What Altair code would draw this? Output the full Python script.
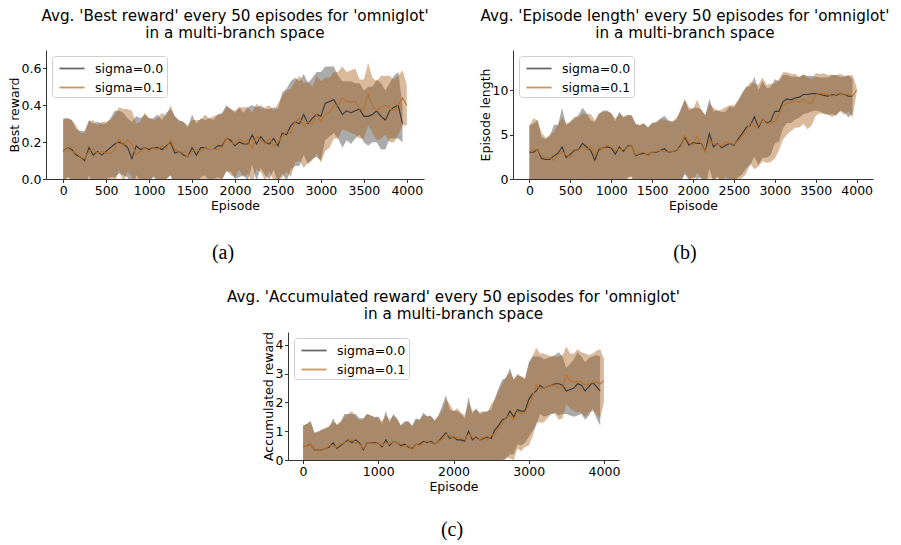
import altair as alt
import pandas as pd

# ---------------- data (every 50 episodes) ----------------
EP_G = list(range(0, 4000, 50))   # sigma=0.0 : 0..3950
EP_O = list(range(0, 4050, 50))   # sigma=0.1 : 0..4000
X_TICKS_AB = [0, 500, 1000, 1500, 2000, 2500, 3000, 3500, 4000]
X_TICKS_C = [0, 1000, 2000, 3000, 4000]
SERIES = ["sigma=0.0", "sigma=0.1"]

# (a) Best reward
A_G_MEAN = [0.15, 0.17, 0.16, 0.13, 0.12, 0.10, 0.17, 0.13, 0.15, 0.13,
            0.15, 0.17, 0.19, 0.20, 0.19, 0.17, 0.11, 0.18, 0.16, 0.17,
            0.16, 0.17, 0.17, 0.16, 0.18, 0.20, 0.14, 0.15, 0.13, 0.12,
            0.17, 0.13, 0.17, 0.17, 0.16, 0.16, 0.18, 0.18, 0.22, 0.21,
            0.18, 0.20, 0.19, 0.19, 0.24, 0.19, 0.23, 0.20, 0.19, 0.22,
            0.18, 0.25, 0.24, 0.29, 0.31, 0.30, 0.35, 0.30, 0.33, 0.35,
            0.34, 0.41, 0.42, 0.43, 0.39, 0.35, 0.37, 0.36, 0.37, 0.38,
            0.34, 0.34, 0.35, 0.37, 0.34, 0.32, 0.37, 0.39, 0.40, 0.30]
A_G_STD = [0.18, 0.16, 0.16, 0.14, 0.14, 0.16, 0.15, 0.17, 0.16, 0.17,
           0.15, 0.16, 0.18, 0.17, 0.17, 0.16, 0.20, 0.16, 0.17, 0.18,
           0.17, 0.16, 0.18, 0.16, 0.18, 0.18, 0.20, 0.17, 0.18, 0.16,
           0.18, 0.17, 0.16, 0.15, 0.17, 0.16, 0.17, 0.18, 0.18, 0.17,
           0.18, 0.19, 0.17, 0.20, 0.16, 0.20, 0.17, 0.18, 0.19, 0.17,
           0.20, 0.22, 0.25, 0.24, 0.24, 0.23, 0.22, 0.22, 0.22, 0.23,
           0.24, 0.20, 0.19, 0.18, 0.17, 0.18, 0.16, 0.17, 0.15, 0.14,
           0.14, 0.16, 0.15, 0.17, 0.18, 0.16, 0.15, 0.17, 0.18, 0.10]
A_O_MEAN = [0.15, 0.17, 0.15, 0.14, 0.12, 0.11, 0.15, 0.16, 0.14, 0.15,
            0.14, 0.14, 0.16, 0.22, 0.18, 0.21, 0.19, 0.13, 0.15, 0.17,
            0.15, 0.17, 0.16, 0.18, 0.17, 0.21, 0.16, 0.15, 0.14, 0.12,
            0.15, 0.16, 0.15, 0.17, 0.16, 0.16, 0.16, 0.17, 0.22, 0.20,
            0.19, 0.22, 0.20, 0.21, 0.17, 0.23, 0.21, 0.19, 0.22, 0.18,
            0.20, 0.23, 0.26, 0.25, 0.31, 0.33, 0.29, 0.31, 0.30, 0.35,
            0.31, 0.35, 0.36, 0.40, 0.40, 0.44, 0.42, 0.42, 0.42, 0.38,
            0.38, 0.46, 0.40, 0.37, 0.39, 0.40, 0.38, 0.37, 0.40, 0.44,
            0.40]
A_O_STD = [0.17, 0.16, 0.17, 0.15, 0.13, 0.14, 0.16, 0.16, 0.15, 0.16,
           0.17, 0.18, 0.19, 0.17, 0.20, 0.17, 0.18, 0.17, 0.16, 0.19,
           0.18, 0.15, 0.17, 0.18, 0.17, 0.19, 0.18, 0.16, 0.17, 0.17,
           0.17, 0.16, 0.17, 0.18, 0.17, 0.18, 0.19, 0.18, 0.17, 0.18,
           0.18, 0.17, 0.19, 0.18, 0.19, 0.18, 0.17, 0.20, 0.18, 0.19,
           0.21, 0.22, 0.22, 0.24, 0.22, 0.23, 0.23, 0.22, 0.20, 0.21,
           0.22, 0.20, 0.19, 0.18, 0.18, 0.17, 0.16, 0.17, 0.18, 0.16,
           0.16, 0.17, 0.15, 0.16, 0.17, 0.16, 0.18, 0.17, 0.16, 0.15,
           0.11]

# (b) Episode length
B_G_MEAN = [3.0, 3.0, 3.3, 2.3, 2.2, 2.2, 2.6, 2.9, 3.6, 2.4,
            2.8, 3.2, 3.3, 4.0, 3.6, 3.2, 2.1, 3.3, 3.5, 3.6,
            3.5, 2.8, 3.6, 3.1, 3.7, 3.7, 2.6, 2.8, 2.9, 2.7,
            3.0, 3.0, 3.2, 3.4, 3.0, 3.1, 3.2, 3.8, 4.7, 3.8,
            4.1, 4.0, 4.0, 3.1, 5.1, 3.6, 4.0, 3.5, 3.8, 4.0,
            3.8, 4.5, 5.1, 5.8, 6.0, 7.0, 5.8, 6.7, 6.3, 6.5,
            7.6, 7.6, 8.7, 9.0, 8.9, 9.1, 9.2, 9.5, 9.5, 9.6,
            9.6, 9.5, 9.4, 9.3, 9.5, 9.4, 9.6, 9.5, 9.3, 9.3]
B_G_STD = [3.0, 3.2, 3.3, 2.4, 2.3, 2.6, 3.5, 3.2, 4.4, 3.6,
           3.7, 3.6, 3.9, 4.0, 3.8, 3.4, 4.3, 4.0, 4.2, 4.1,
           3.9, 3.7, 4.0, 3.8, 3.5, 3.4, 3.6, 3.2, 3.3, 3.1,
           3.3, 3.4, 3.6, 3.7, 3.6, 3.3, 3.5, 4.1, 4.2, 3.9,
           3.9, 4.0, 3.8, 4.1, 3.9, 4.0, 3.7, 4.0, 3.8, 4.2,
           4.2, 4.3, 4.6, 4.6, 4.4, 4.5, 4.2, 4.3, 3.9, 3.8,
           3.6, 3.4, 3.0, 2.7, 2.6, 2.4, 2.3, 2.2, 2.1, 2.0,
           1.9, 1.9, 2.0, 2.1, 2.2, 2.3, 1.9, 2.0, 2.4, 1.9]
B_O_MEAN = [3.0, 3.4, 3.2, 2.6, 2.3, 2.4, 2.1, 2.7, 3.1, 2.7,
            2.5, 3.1, 3.3, 3.6, 3.3, 3.7, 2.6, 3.5, 3.4, 3.8,
            3.6, 3.2, 3.4, 3.3, 3.6, 3.7, 2.7, 2.9, 3.0, 2.6,
            3.0, 3.1, 3.2, 3.1, 3.0, 3.1, 3.3, 3.6, 4.9, 4.1,
            3.8, 4.8, 3.9, 3.1, 4.3, 4.0, 3.9, 3.7, 4.2, 4.0,
            3.9, 4.3, 4.8, 5.4, 6.3, 5.9, 6.0, 6.7, 6.2, 6.3,
            6.5, 7.2, 8.2, 8.5, 8.6, 8.8, 8.6, 9.0, 8.5, 8.6,
            9.5, 9.6, 9.6, 9.5, 9.3, 9.5, 9.7, 9.4, 9.6, 9.3,
            10.0]
B_O_STD = [3.0, 3.4, 3.4, 2.6, 2.3, 2.6, 3.2, 3.4, 3.8, 3.6,
           3.8, 3.9, 3.6, 3.8, 4.0, 3.6, 4.0, 3.9, 4.1, 3.8,
           3.8, 3.6, 3.9, 3.7, 3.6, 3.5, 3.4, 3.2, 3.3, 3.2,
           3.3, 3.2, 3.5, 3.6, 3.5, 3.4, 3.6, 4.0, 4.1, 4.0,
           4.0, 4.1, 3.9, 4.0, 4.2, 4.0, 3.8, 4.1, 3.9, 4.3,
           4.4, 4.5, 4.7, 4.8, 4.6, 4.8, 4.6, 4.7, 4.4, 4.4,
           4.2, 4.0, 3.8, 3.5, 3.2, 3.0, 2.8, 2.8, 2.9, 2.6,
           2.4, 2.2, 2.3, 2.2, 2.4, 2.2, 2.1, 2.2, 2.0, 2.4,
           0.3]

# (c) Accumulated reward
C_G_MEAN = [0.50, 0.50, 0.55, 0.35, 0.35, 0.35, 0.40, 0.45, 0.60, 0.40,
            0.50, 0.60, 0.70, 0.60, 0.70, 0.60, 0.35, 0.60, 0.60, 0.60,
            0.60, 0.45, 0.70, 0.50, 0.65, 0.60, 0.50, 0.55, 0.45, 0.40,
            0.55, 0.55, 0.65, 0.60, 0.65, 0.55, 0.65, 0.80, 0.95, 0.75,
            0.80, 0.70, 0.70, 0.65, 1.00, 0.70, 0.80, 0.70, 0.75, 0.80,
            0.75, 1.05, 1.20, 1.40, 1.45, 1.70, 1.50, 1.75, 1.70, 1.70,
            2.10, 2.30, 2.40, 2.60, 2.50, 2.55, 2.60, 2.65, 2.65, 2.60,
            2.40, 2.45, 2.50, 2.65, 2.60, 2.40, 2.55, 2.70, 2.55, 2.40]
C_G_STD = [0.70, 0.75, 0.80, 0.60, 0.65, 0.70, 0.70, 0.70, 0.85, 0.80,
           0.80, 1.00, 0.90, 1.00, 0.90, 0.85, 1.10, 1.00, 0.95, 0.90,
           0.90, 0.80, 1.00, 0.80, 0.95, 0.85, 0.70, 0.80, 0.90, 0.80,
           0.90, 0.85, 1.00, 0.90, 0.90, 0.80, 0.90, 1.10, 1.30, 1.00,
           0.90, 1.00, 0.90, 0.80, 1.20, 0.90, 1.00, 0.90, 0.90, 0.90,
           1.00, 1.10, 1.30, 1.40, 1.40, 1.50, 1.30, 1.20, 1.20, 1.10,
           1.30, 1.30, 1.20, 1.00, 1.00, 1.00, 1.00, 1.00, 1.10, 1.00,
           0.80, 0.90, 1.00, 1.10, 1.00, 1.00, 1.00, 0.90, 1.10, 1.20]
C_O_MEAN = [0.50, 0.50, 0.55, 0.35, 0.35, 0.35, 0.40, 0.50, 0.50, 0.45,
            0.55, 0.60, 0.65, 0.70, 0.60, 0.55, 0.40, 0.60, 0.60, 0.55,
            0.60, 0.50, 0.60, 0.55, 0.65, 0.60, 0.45, 0.50, 0.50, 0.35,
            0.55, 0.50, 0.60, 0.65, 0.60, 0.55, 0.65, 0.70, 0.90, 0.85,
            0.75, 0.80, 0.75, 0.70, 0.90, 0.80, 0.75, 0.70, 0.80, 0.70,
            0.85, 0.90, 1.10, 1.25, 1.50, 1.55, 1.40, 1.70, 1.60, 1.65,
            1.90, 2.20, 2.60, 2.50, 2.50, 2.55, 2.60, 2.60, 2.50, 2.55,
            2.95, 2.75, 2.70, 2.75, 2.70, 2.60, 2.65, 2.70, 2.70, 2.65,
            2.75]
C_O_STD = [0.70, 0.75, 0.80, 0.60, 0.60, 0.70, 0.70, 0.70, 0.80, 0.80,
           0.80, 0.90, 0.95, 1.00, 0.90, 0.85, 1.00, 1.00, 0.95, 0.90,
           0.90, 0.85, 0.95, 0.85, 0.90, 0.80, 0.75, 0.80, 0.85, 0.80,
           0.85, 0.90, 0.95, 0.90, 0.90, 0.85, 0.90, 1.00, 1.20, 1.10,
           0.95, 1.00, 0.90, 0.85, 1.10, 0.90, 1.00, 0.95, 0.90, 0.95,
           1.10, 1.20, 1.30, 1.40, 1.40, 1.50, 1.40, 1.30, 1.30, 1.20,
           1.40, 1.40, 1.30, 1.20, 1.20, 1.10, 1.00, 1.00, 1.10, 1.10,
           1.00, 0.95, 1.00, 1.10, 1.05, 1.10, 1.00, 1.00, 1.10, 1.20,
           0.75]

# ---------------- style ----------------
FONT = "DejaVu Sans"
GRAY_BAND, GRAY_BAND_OP = "#7f7f7f", 0.66
ORANGE_BAND, ORANGE_BAND_OP = "#a45a14", 0.42
GRAY_LINE, ORANGE_LINE = "#383838", "#b8722c"


def frame(ep, mean, std, label):
    n = min(len(ep), len(mean), len(std))
    return pd.DataFrame({
        "Episode": ep[:n],
        "mean": mean[:n],
        "lo": [m - s for m, s in zip(mean[:n], std[:n])],
        "hi": [m + s for m, s in zip(mean[:n], std[:n])],
        "series": label,
    })


def panel(g, o, ytitle, ydomain, yticks, yfmt, xticks, w, h, title, tag, tagx, tagdy, tdx=0):
    data = pd.concat([g, o], ignore_index=True)
    base = alt.Chart(data)
    xs = alt.Scale(domain=[-200, 4200], nice=False, zero=False)
    ys = alt.Scale(domain=ydomain, nice=False, zero=False)
    xaxis = alt.Axis(values=xticks, format="d", title="Episode")
    yaxis = alt.Axis(values=yticks, format=yfmt, title=ytitle)
    x = alt.X("Episode:Q", scale=xs, axis=xaxis)

    band_g = base.transform_filter(alt.datum.series == SERIES[0]).mark_area(
        color=GRAY_BAND, opacity=GRAY_BAND_OP, clip=True
    ).encode(x=x, y=alt.Y("lo:Q", scale=ys, axis=yaxis), y2="hi:Q")
    band_o = base.transform_filter(alt.datum.series == SERIES[1]).mark_area(
        color=ORANGE_BAND, opacity=ORANGE_BAND_OP, clip=True
    ).encode(x=x, y=alt.Y("lo:Q", scale=ys, axis=yaxis), y2="hi:Q")
    lines = base.mark_line(strokeWidth=1.1, clip=True).encode(
        x=x,
        y=alt.Y("mean:Q", scale=ys, axis=yaxis),
        color=alt.Color(
            "series:N",
            scale=alt.Scale(domain=SERIES, range=[GRAY_LINE, ORANGE_LINE]),
            legend=alt.Legend(
                title=None, orient="top-left", offset=6, padding=3,
                strokeColor="#d0d0d0", fillColor="white", cornerRadius=3,
                labelFont=FONT, labelFontSize=12.5, labelColor="black",
                symbolType="M-0.6,0H2.4", symbolSize=280, symbolStrokeWidth=1.8,
                symbolOpacity=0.75, rowPadding=3, labelOffset=21,
            ),
        ),
    )
    tagc = alt.Chart(pd.DataFrame({"t": [tag]})).mark_text(
        font="Liberation Serif", fontSize=20, color="black", clip=False
    ).encode(text="t:N", x=alt.value(tagx), y=alt.value(h + tagdy))

    return alt.layer(band_g, band_o, lines, tagc).properties(
        width=w, height=h,
        title=alt.TitleParams(title, font=FONT, fontSize=15.2, fontWeight="normal",
                              color="black", anchor="middle", offset=9, lineHeight=17,
                              dx=tdx),
    )


pa = panel(frame(EP_G, A_G_MEAN, A_G_STD, SERIES[0]), frame(EP_O, A_O_MEAN, A_O_STD, SERIES[1]),
           "Best reward", [0, 0.7], [0.0, 0.2, 0.4, 0.6], ".1f", X_TICKS_AB, 378, 129,
           ["Avg. 'Best reward' every 50 episodes for 'omniglot'", "in a multi-branch space"],
           "(a)", 177, 74)
pb = panel(frame(EP_G, B_G_MEAN, B_G_STD, SERIES[0]), frame(EP_O, B_O_MEAN, B_O_STD, SERIES[1]),
           "Episode length", [0, 14.5], [0, 5, 10], "d", X_TICKS_AB, 360, 129,
           ["Avg. 'Episode length' every 50 episodes for 'omniglot'", "in a multi-branch space"],
           "(b)", 172, 74, tdx=-8)
pc = panel(frame(EP_G, C_G_MEAN, C_G_STD, SERIES[0]), frame(EP_O, C_O_MEAN, C_O_STD, SERIES[1]),
           "Accumulated reward", [0, 4.45], [0, 1, 2, 3, 4], "d", X_TICKS_C, 331, 128,
           ["Avg. 'Accumulated reward' every 50 episodes for 'omniglot'", "in a multi-branch space"],
           "(c)", 164, 70)

spacer = alt.Chart(pd.DataFrame({"s": [0]})).mark_point(opacity=0).properties(width=181, height=10)

top = alt.hconcat(pa, pb, spacing=50).resolve_scale(color="independent")
bottom = alt.hconcat(spacer, pc, spacing=0).resolve_scale(color="independent")
chart = alt.vconcat(top, bottom, spacing=27).resolve_scale(
    color="independent"
).properties(padding=0, background="white").configure_view(stroke=None).configure_axis(
    grid=False, labelFont=FONT, titleFont=FONT, labelFontSize=12.5, titleFontSize=12.5,
    labelColor="black", titleColor="black", titleFontWeight="normal",
    domainColor="#333333", tickColor="#333333", tickSize=3.5, labelPadding=2,
).configure_axisX(titlePadding=2).configure_axisY(titlePadding=0, labelPadding=1.5)

chart.save("out.html", embed_options={"renderer": "svg", "actions": False})
